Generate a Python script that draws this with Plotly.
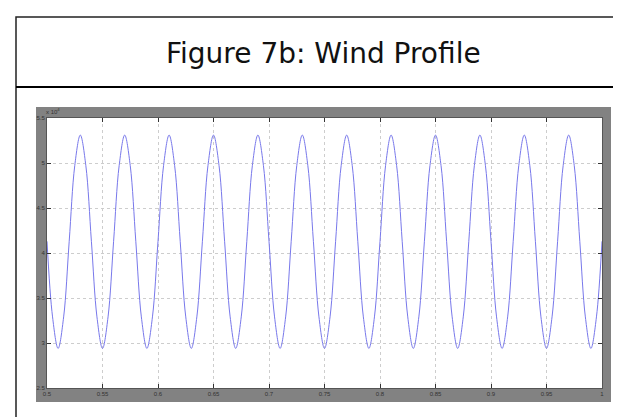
import plotly.graph_objects as go

# ---- data ----
time_s = [round(0.5 + 0.005 * i, 3) for i in range(101)]
wind = [
    4.13, 3.29, 2.94, 3.29, 4.13, 4.97, 5.31, 4.97,
    4.13, 3.29, 2.94, 3.29, 4.13, 4.97, 5.31, 4.97,
    4.13, 3.29, 2.94, 3.29, 4.13, 4.97, 5.31, 4.97,
    4.13, 3.29, 2.94, 3.29, 4.13, 4.97, 5.31, 4.97,
    4.13, 3.29, 2.94, 3.29, 4.13, 4.97, 5.31, 4.97,
    4.13, 3.29, 2.94, 3.29, 4.13, 4.97, 5.31, 4.97,
    4.13, 3.29, 2.94, 3.29, 4.13, 4.97, 5.31, 4.97,
    4.13, 3.29, 2.94, 3.29, 4.13, 4.97, 5.31, 4.97,
    4.13, 3.29, 2.94, 3.29, 4.13, 4.97, 5.31, 4.97,
    4.13, 3.29, 2.94, 3.29, 4.13, 4.97, 5.31, 4.97,
    4.13, 3.29, 2.94, 3.29, 4.13, 4.97, 5.31, 4.97,
    4.13, 3.29, 2.94, 3.29, 4.13, 4.97, 5.31, 4.97,
    4.13, 3.29, 2.94, 3.29, 4.13,
]
x_ticks = [0.5, 0.55, 0.6, 0.65, 0.7, 0.75, 0.8, 0.85, 0.9, 0.95, 1.0]
x_labels = ["0.5", "0.55", "0.6", "0.65", "0.7", "0.75", "0.8", "0.85", "0.9", "0.95", "1"]
y_ticks = [2.5, 3.0, 3.5, 4.0, 4.5, 5.0, 5.5]
y_labels = ["2.5", "3", "3.5", "4", "4.5", "5", "5.5"]
title_text = "Figure 7b: Wind Profile"
exponent_text = "x 10<sup>4</sup>"

W, H = 621, 417
PL, PR, PT, PB = 39, 594, 110, 380  # plot area in pixels


def px(xp):
    return (xp - PL) / (PR - PL)


def py(yp):
    return (PB - yp) / (PB - PT)


fig = go.Figure()
fig.add_trace(go.Scatter(
    x=time_s, y=wind, mode="lines",
    line=dict(color="rgb(120,120,235)", width=1, shape="spline", smoothing=1.0),
    hoverinfo="skip", showlegend=False,
))

shapes = [
    # grey figure panel
    dict(type="rect", xref="paper", yref="paper", layer="below",
         x0=px(28), x1=px(603), y0=py(394), y1=py(99),
         fillcolor="rgb(130,130,130)", line=dict(width=0)),
    # white axes area
    dict(type="rect", xref="paper", yref="paper", layer="below",
         x0=0, x1=1, y0=0, y1=1,
         fillcolor="white", line=dict(width=0)),
    # outer frame
    dict(type="rect", xref="paper", yref="paper", layer="above",
         x0=px(8), x1=px(619), y0=py(430), y1=py(9),
         line=dict(color="#222222", width=1.5)),
    # title separator
    dict(type="line", xref="paper", yref="paper", layer="above",
         x0=px(8), x1=px(619), y0=py(79), y1=py(79),
         line=dict(color="black", width=2)),
]

annotations = [
    dict(text=title_text, xref="paper", yref="paper",
         x=px(315), y=py(45), showarrow=False,
         xanchor="center", yanchor="middle",
         font=dict(family="DejaVu Sans", size=28, color="#111111")),
    dict(text=exponent_text, xref="paper", yref="paper",
         x=px(36), y=py(103), showarrow=False,
         xanchor="left", yanchor="middle",
         font=dict(family="Liberation Sans", size=6, color="#333333")),
]

fig.update_layout(
    width=W, height=H,
    margin=dict(l=PL, r=W - PR, t=PT, b=H - PB, pad=0),
    paper_bgcolor="white", plot_bgcolor="white",
    shapes=shapes, annotations=annotations,
    showlegend=False,
)
fig.update_xaxes(
    range=[0.5, 1.0], tickvals=x_ticks, ticktext=x_labels,
    ticks="inside", ticklen=4, tickcolor="#333", tickwidth=1,
    showline=True, linecolor="#555", linewidth=1, mirror="ticks",
    showgrid=True, gridcolor="rgb(205,205,205)", griddash="dot", gridwidth=1,
    zeroline=False,
    tickfont=dict(family="Liberation Sans", size=6, color="#333333"),
)
fig.update_yaxes(
    range=[2.5, 5.5], tickvals=y_ticks, ticktext=y_labels,
    ticks="inside", ticklen=4, tickcolor="#333", tickwidth=1,
    showline=True, linecolor="#555", linewidth=1, mirror="ticks",
    showgrid=True, gridcolor="rgb(205,205,205)", griddash="dot", gridwidth=1,
    zeroline=False,
    tickfont=dict(family="Liberation Sans", size=6, color="#333333"),
)

fig.write_html("out.html")
